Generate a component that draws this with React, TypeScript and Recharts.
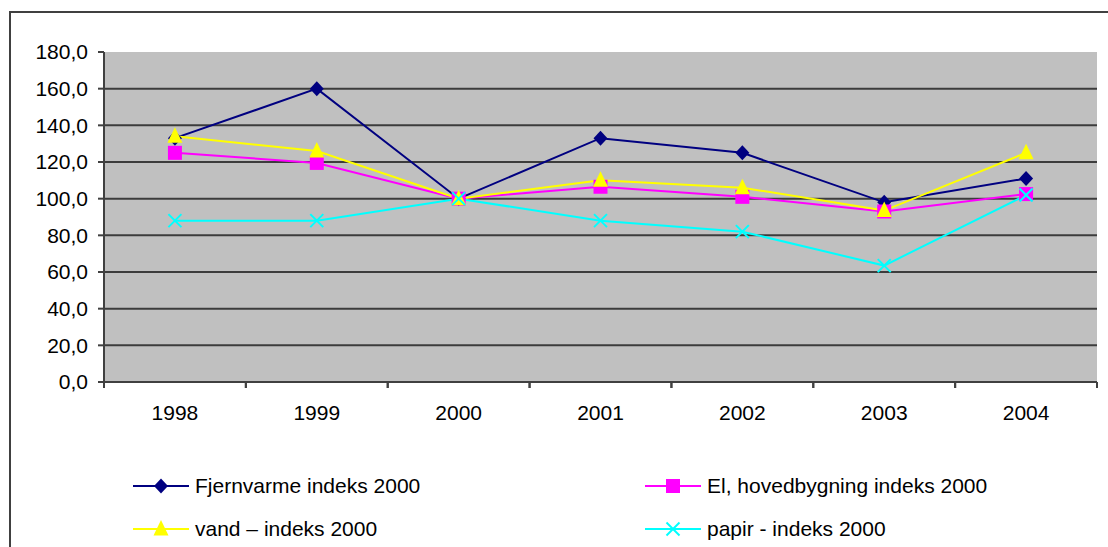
import { LineChart, Line, XAxis, YAxis, CartesianGrid } from 'recharts'

const years = ['1998', '1999', '2000', '2001', '2002', '2003', '2004']
const fjernvarme = [133, 160, 100, 133, 125, 98, 111]
const el = [125, 119.5, 100, 106.5, 101, 93, 102.5]
const vand = [134, 126, 100, 110, 106, 93.5, 125]
const papir = [88, 88, 100, 88, 82, 63.5, 102]
const yTicks = [0, 20, 40, 60, 80, 100, 120, 140, 160, 180]

const data = years.map((year, i) => ({
  year,
  fjernvarme: fjernvarme[i],
  el: el[i],
  vand: vand[i],
  papir: papir[i],
}))

const W = 1108
const H = 547
const PLOT_LEFT = 104
const PLOT_RIGHT = 1097
const FONT = '"Liberation Sans", Arial, sans-serif'

const series = [
  { key: 'fjernvarme', label: 'Fjernvarme indeks 2000', color: '#000080', shape: 'diamond' },
  { key: 'el', label: 'El, hovedbygning indeks 2000', color: '#FF00FF', shape: 'square' },
  { key: 'vand', label: 'vand – indeks 2000', color: '#FFFF00', shape: 'triangle' },
  { key: 'papir', label: 'papir - indeks 2000', color: '#00FFFF', shape: 'cross' },
]

function Marker({ cx, cy, shape, color }: { cx: number; cy: number; shape: string; color: string }) {
  if (cx == null || cy == null) return null
  if (shape === 'diamond')
    return <polygon points={`${cx},${cy - 7.5} ${cx + 7},${cy} ${cx},${cy + 7.5} ${cx - 7},${cy}`} fill={color} />
  if (shape === 'square') return <rect x={cx - 7} y={cy - 7} width={14} height={14} fill={color} />
  if (shape === 'triangle')
    return <polygon points={`${cx},${cy - 9} ${cx + 7.5},${cy + 6.5} ${cx - 7.5},${cy + 6.5}`} fill={color} />
  return (
    <g stroke={color} strokeWidth={2}>
      <line x1={cx - 6.5} y1={cy - 6.5} x2={cx + 6.5} y2={cy + 6.5} />
      <line x1={cx - 6.5} y1={cy + 6.5} x2={cx + 6.5} y2={cy - 6.5} />
    </g>
  )
}

function YearTick(props: any) {
  const { x, y, payload } = props
  const half = (PLOT_RIGHT - PLOT_LEFT) / years.length / 2
  return (
    <g>
      <line x1={x - half} y1={y} x2={x - half} y2={y + 6} stroke="#404040" strokeWidth={2} />
      <line x1={x + half} y1={y} x2={x + half} y2={y + 6} stroke="#404040" strokeWidth={2} />
      <text x={x} y={y + 38} textAnchor="middle" fontSize={21} fontFamily={FONT} fill="#000">
        {payload.value}
      </text>
    </g>
  )
}

function LegendItem({ s, x, y }: { s: (typeof series)[number]; x: number; y: number }) {
  return (
    <div style={{ position: 'absolute', left: x, top: y - 14, height: 28, display: 'flex', alignItems: 'center' }}>
      <svg width={58} height={28}>
        <line x1={0} y1={14} x2={56} y2={14} stroke={s.color} strokeWidth={2} />
        <Marker cx={28} cy={14} shape={s.shape} color={s.color} />
      </svg>
      <span style={{ fontFamily: FONT, fontSize: 21, color: '#000', marginLeft: 4, whiteSpace: 'nowrap' }}>
        {s.label}
      </span>
    </div>
  )
}

export default function App() {
  return (
    <div style={{ position: 'absolute', left: 0, top: 0, width: W, height: H, background: '#fff', overflow: 'hidden' }}>
      <div
        style={{
          position: 'absolute',
          left: 9,
          top: 11,
          width: W + 20,
          height: H + 20,
          border: '2px solid #404040',
          boxSizing: 'border-box',
        }}
      />
      <div style={{ position: 'absolute', left: 0, top: 0 }}>
        <LineChart width={W} height={H} data={data} margin={{ top: 52, right: 11, left: 0, bottom: 125 }}>
          <CartesianGrid
            vertical={false}
            horizontalValues={yTicks.slice(1, -1)}
            stroke="#3c3c3c"
            strokeWidth={2}
            fill="#C0C0C0"
            fillOpacity={1}
          />
          <XAxis
            dataKey="year"
            scale="band"
            height={40}
            tickLine={false}
            tickSize={0}
            tickMargin={0}
            interval={0}
            tick={<YearTick />}
            axisLine={{ stroke: '#404040', strokeWidth: 2 }}
          />
          <XAxis xAxisId="top" orientation="top" dataKey="year" scale="band" height={0} tick={false} tickLine={false} axisLine={{ stroke: '#808080', strokeWidth: 2 }} />
          <YAxis
            width={104}
            domain={[0, 180]}
            ticks={yTicks}
            interval={0}
            tickSize={6}
            tickMargin={10}
            tickFormatter={(v: number) => v.toFixed(1).replace('.', ',')}
            tick={{ fontSize: 21, fontFamily: FONT, fill: '#000' }}
            tickLine={{ stroke: '#404040', strokeWidth: 2 }}
            axisLine={{ stroke: '#404040', strokeWidth: 2 }}
          />
          <YAxis yAxisId="right" orientation="right" width={0} tick={false} tickLine={false} axisLine={{ stroke: '#808080', strokeWidth: 3 }} />
          {series.map(s => (
            <Line
              key={s.key}
              dataKey={s.key}
              stroke={s.color}
              strokeWidth={2}
              isAnimationActive={false}
              dot={(p: any) => <Marker key={`${s.key}-${p.index}`} cx={p.cx} cy={p.cy} shape={s.shape} color={s.color} />}
              activeDot={false}
            />
          ))}
        </LineChart>
      </div>
      <LegendItem s={series[0]} x={133} y={486} />
      <LegendItem s={series[1]} x={645} y={486} />
      <LegendItem s={series[2]} x={133} y={529} />
      <LegendItem s={series[3]} x={645} y={529} />
    </div>
  )
}
